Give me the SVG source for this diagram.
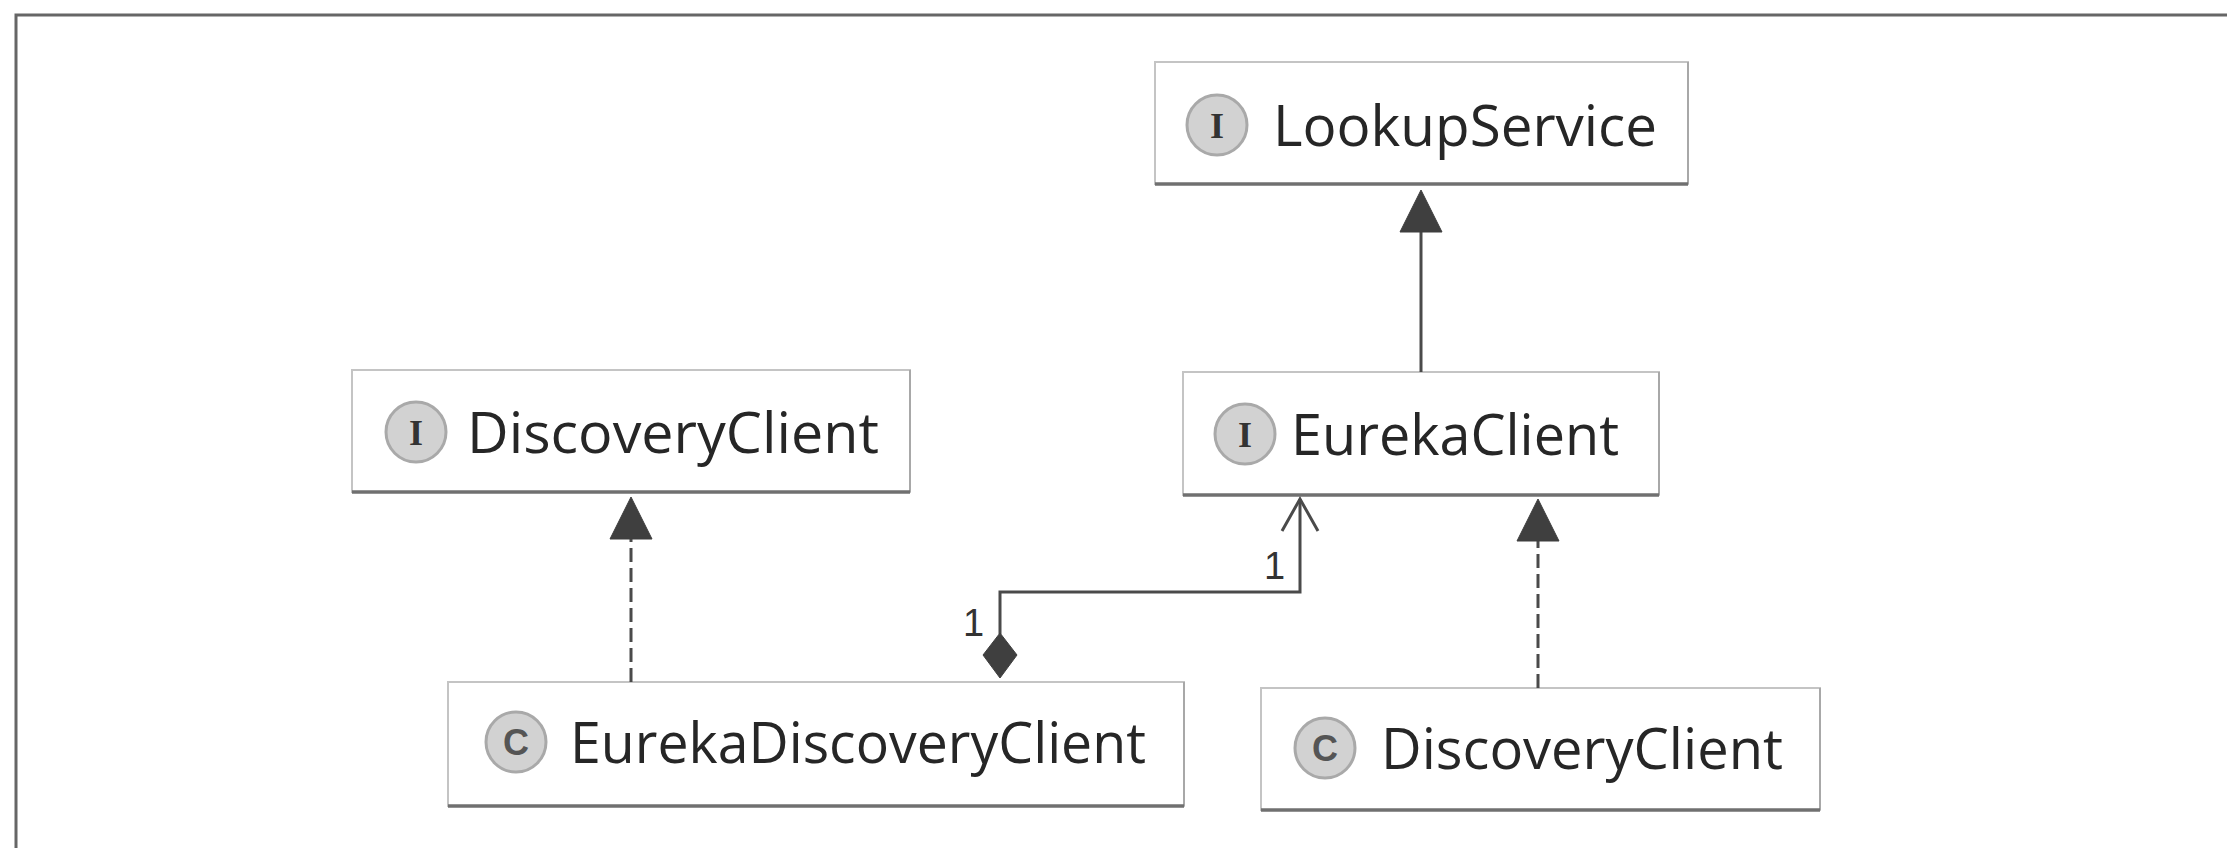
<svg xmlns="http://www.w3.org/2000/svg" width="2227" height="848" viewBox="0 0 2227 848">
  <style>
    .box { fill: #ffffff; stroke: #c4c4c4; stroke-width: 2; }
    .shadow { stroke: #707070; stroke-width: 3.5; fill: none; }
    .side { stroke: #a8a8a8; stroke-width: 2; fill: none; }
    .icon { fill: #d2d2d2; stroke: #a9a9a9; stroke-width: 3; }
    .iletter { font-family: "Liberation Serif", serif; font-weight: bold; font-size: 36px; fill: #333333; text-anchor: middle; }
    .cletter { font-family: "Liberation Sans", sans-serif; font-weight: bold; font-size: 36px; fill: #555555; text-anchor: middle; }
    .name { font-family: "Open Sans", "Noto Sans", sans-serif; font-size: 56px; fill: #262626; }
    .edge { stroke: #4a4a4a; stroke-width: 3; fill: none; }
    .dash { stroke-dasharray: 14 6; }
    .head { fill: #3f3f3f; stroke: #3f3f3f; stroke-width: 1; }
    .mult { font-family: "Liberation Sans", Arial, sans-serif; font-size: 38px; fill: #333333; }
    .frame { stroke: #666666; stroke-width: 3; fill: none; }
  </style>

  <rect x="0" y="0" width="2227" height="848" fill="#ffffff"/>
  <path class="frame" d="M16,848 L16,15 L2227,15"/>

  <g id="node-lookupservice">
    <rect class="box" x="1155" y="62" width="533" height="122"/>
    <line class="side" x1="1688" y1="62" x2="1688" y2="184"/>
    <line class="shadow" x1="1155" y1="184" x2="1688" y2="184"/>
    <circle class="icon" cx="1217" cy="125" r="30"/>
    <text class="iletter" x="1217" y="138">I</text>
    <text class="name" x="1273" y="146" textLength="384" lengthAdjust="spacingAndGlyphs">LookupService</text>
  </g>

  <g id="node-discoveryclient-interface">
    <rect class="box" x="352" y="370" width="558" height="122"/>
    <line class="side" x1="910" y1="370" x2="910" y2="492"/>
    <line class="shadow" x1="352" y1="492" x2="910" y2="492"/>
    <circle class="icon" cx="416" cy="432" r="30"/>
    <text class="iletter" x="416" y="445">I</text>
    <text class="name" x="467" y="453" textLength="412" lengthAdjust="spacingAndGlyphs">DiscoveryClient</text>
  </g>

  <g id="node-eurekaclient">
    <rect class="box" x="1183" y="372" width="476" height="123"/>
    <line class="side" x1="1659" y1="372" x2="1659" y2="495"/>
    <line class="shadow" x1="1183" y1="495" x2="1659" y2="495"/>
    <circle class="icon" cx="1245" cy="434" r="30"/>
    <text class="iletter" x="1245" y="447">I</text>
    <text class="name" x="1291" y="455" textLength="328" lengthAdjust="spacingAndGlyphs">EurekaClient</text>
  </g>

  <g id="node-eurekadiscoveryclient">
    <rect class="box" x="448" y="682" width="736" height="124"/>
    <line class="side" x1="1184" y1="682" x2="1184" y2="806"/>
    <line class="shadow" x1="448" y1="806" x2="1184" y2="806"/>
    <circle class="icon" cx="516" cy="742" r="30"/>
    <text class="cletter" x="516" y="755">C</text>
    <text class="name" x="570" y="763" textLength="576" lengthAdjust="spacingAndGlyphs">EurekaDiscoveryClient</text>
  </g>

  <g id="node-discoveryclient-class">
    <rect class="box" x="1261" y="688" width="559" height="122"/>
    <line class="side" x1="1820" y1="688" x2="1820" y2="810"/>
    <line class="shadow" x1="1261" y1="810" x2="1820" y2="810"/>
    <circle class="icon" cx="1325" cy="748" r="30"/>
    <text class="cletter" x="1325" y="761">C</text>
    <text class="name" x="1381" y="769" textLength="402" lengthAdjust="spacingAndGlyphs">DiscoveryClient</text>
  </g>

  <g id="connectors">
    <!-- EurekaClient extends LookupService -->
    <line class="edge" x1="1421" y1="372" x2="1421" y2="230"/>
    <polygon class="head" points="1421,190 1442,232 1400,232"/>

    <!-- EurekaDiscoveryClient implements DiscoveryClient (interface) -->
    <line class="edge dash" x1="631" y1="682" x2="631" y2="538"/>
    <polygon class="head" points="631,497 652,539 610,539"/>

    <!-- DiscoveryClient (class) implements EurekaClient -->
    <line class="edge dash" x1="1538" y1="688" x2="1538" y2="540"/>
    <polygon class="head" points="1538,499 1559,541 1517,541"/>

    <!-- Composition EurekaDiscoveryClient -> EurekaClient -->
    <polyline class="edge" points="1000,634 1000,592 1300,592 1300,499"/>
    <polyline class="edge" points="1282,531 1300,499 1318,531"/>
    <polygon class="head" points="1000,633 1017,655 1000,678 983,655"/>
    <text class="mult" x="963" y="636">1</text>
    <text class="mult" x="1264" y="579">1</text>
  </g>
</svg>
